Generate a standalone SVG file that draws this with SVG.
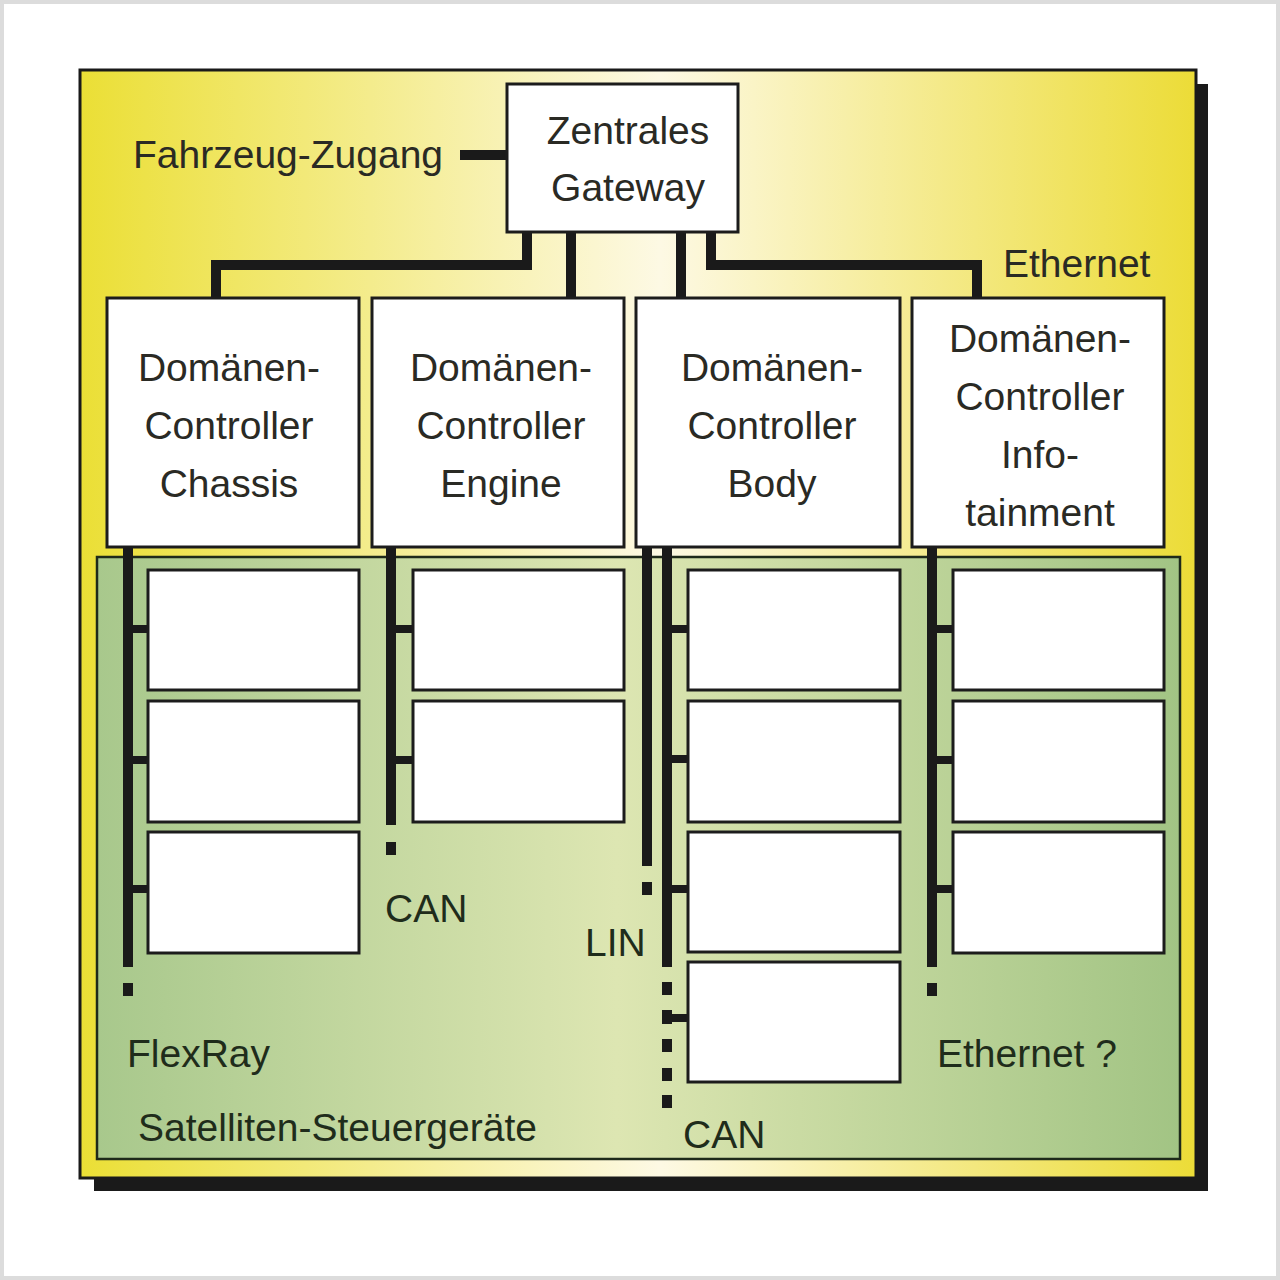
<svg xmlns="http://www.w3.org/2000/svg" width="1280" height="1280" viewBox="0 0 1280 1280">
  <defs>
    <linearGradient id="gYellow" x1="80" y1="0" x2="1196" y2="0" gradientUnits="userSpaceOnUse">
      <stop offset="0" stop-color="#ebdf35"/>
      <stop offset="0.52" stop-color="#fdf9e4"/>
      <stop offset="1" stop-color="#ecdc37"/>
    </linearGradient>
    <linearGradient id="gGreen" x1="97" y1="0" x2="1180" y2="0" gradientUnits="userSpaceOnUse">
      <stop offset="0" stop-color="#a8c88c"/>
      <stop offset="0.48" stop-color="#dde6b2"/>
      <stop offset="1" stop-color="#a2c484"/>
    </linearGradient>
    <style>
      .box { fill: #ffffff; stroke: #1c1c1c; stroke-width: 3; }
      .txt { font-family: "Liberation Sans", Arial, sans-serif; font-size: 39px; fill: #2a2a24; }
      .mid { text-anchor: middle; }
      .lbl { font-family: "Liberation Sans", Arial, sans-serif; font-size: 39px; fill: #1f2c1b; }
      .wire { fill: none; stroke: #1a1a1a; stroke-width: 10; }
      .stub { fill: none; stroke: #1a1a1a; stroke-width: 8; }
      .dot { fill: #1a1a1a; }
    </style>
  </defs>

  <!-- page frame -->
  <rect x="0" y="0" width="1280" height="1280" fill="#ffffff"/>
  <rect x="2" y="2" width="1276" height="1276" fill="none" stroke="#dcdcdc" stroke-width="4"/>

  <!-- outer vehicle frame with shadow -->
  <g id="vehicle-frame">
    <rect x="94" y="84" width="1114" height="1107" fill="#1a1a1a"/>
    <rect x="80" y="70" width="1116" height="1108" fill="url(#gYellow)" stroke="#1a1a1a" stroke-width="3"/>
  </g>

  <!-- satellite area -->
  <g id="satellite-area">
    <rect x="97" y="557" width="1083" height="602" fill="url(#gGreen)" stroke="#1e2a1a" stroke-width="2.5"/>
  </g>

  <!-- connectors -->
  <g id="connectors">
    <line class="wire" x1="460" y1="155" x2="508" y2="155"/>
    <polyline class="wire" points="527,232 527,265 216,265 216,298"/>
    <line class="wire" x1="571" y1="232" x2="571" y2="298"/>
    <line class="wire" x1="681" y1="232" x2="681" y2="298"/>
    <polyline class="wire" points="711,232 711,265 977,265 977,298"/>

    <!-- FlexRay (Chassis) -->
    <line class="wire" x1="128" y1="548" x2="128" y2="967"/>
    <rect class="dot" x="123" y="983" width="10" height="13"/>
    <line class="stub" x1="128" y1="629" x2="149" y2="629"/>
    <line class="stub" x1="128" y1="760" x2="149" y2="760"/>
    <line class="stub" x1="128" y1="889" x2="149" y2="889"/>

    <!-- CAN (Engine) -->
    <line class="wire" x1="391" y1="548" x2="391" y2="825"/>
    <rect class="dot" x="386" y="842" width="10" height="13"/>
    <line class="stub" x1="391" y1="629" x2="414" y2="629"/>
    <line class="stub" x1="391" y1="760" x2="414" y2="760"/>

    <!-- LIN (Body) -->
    <line class="wire" x1="647" y1="548" x2="647" y2="866"/>
    <rect class="dot" x="642" y="882" width="10" height="13"/>

    <!-- CAN (Body) -->
    <line class="wire" x1="667" y1="548" x2="667" y2="967"/>
    <rect class="dot" x="662" y="982" width="10" height="13"/>
    <rect class="dot" x="662" y="1010" width="10" height="14"/>
    <rect class="dot" x="662" y="1039" width="10" height="13"/>
    <rect class="dot" x="662" y="1068" width="10" height="13"/>
    <rect class="dot" x="662" y="1095" width="10" height="13"/>
    <line class="stub" x1="667" y1="629" x2="689" y2="629"/>
    <line class="stub" x1="667" y1="759" x2="689" y2="759"/>
    <line class="stub" x1="667" y1="889" x2="689" y2="889"/>
    <line class="stub" x1="667" y1="1018" x2="689" y2="1018"/>

    <!-- Ethernet ? (Infotainment) -->
    <line class="wire" x1="932" y1="548" x2="932" y2="967"/>
    <rect class="dot" x="927" y="983" width="10" height="13"/>
    <line class="stub" x1="932" y1="629" x2="954" y2="629"/>
    <line class="stub" x1="932" y1="760" x2="954" y2="760"/>
    <line class="stub" x1="932" y1="889" x2="954" y2="889"/>
  </g>

  <!-- gateway -->
  <g id="gateway">
    <rect class="box" x="507" y="84" width="231" height="148"/>
    <text class="txt mid" x="628" y="144">Zentrales</text>
    <text class="txt mid" x="628" y="201">Gateway</text>
  </g>

  <!-- domain controllers -->
  <g id="dc-chassis">
    <rect class="box" x="107" y="298" width="252" height="249"/>
    <text class="txt mid" x="229" y="381">Domänen-</text>
    <text class="txt mid" x="229" y="439">Controller</text>
    <text class="txt mid" x="229" y="497">Chassis</text>
  </g>
  <g id="dc-engine">
    <rect class="box" x="372" y="298" width="252" height="249"/>
    <text class="txt mid" x="501" y="381">Domänen-</text>
    <text class="txt mid" x="501" y="439">Controller</text>
    <text class="txt mid" x="501" y="497">Engine</text>
  </g>
  <g id="dc-body">
    <rect class="box" x="636" y="298" width="264" height="249"/>
    <text class="txt mid" x="772" y="381">Domänen-</text>
    <text class="txt mid" x="772" y="439">Controller</text>
    <text class="txt mid" x="772" y="497">Body</text>
  </g>
  <g id="dc-infotainment">
    <rect class="box" x="912" y="298" width="252" height="249"/>
    <text class="txt mid" x="1040" y="352">Domänen-</text>
    <text class="txt mid" x="1040" y="410">Controller</text>
    <text class="txt mid" x="1040" y="468">Info-</text>
    <text class="txt mid" x="1040" y="526">tainment</text>
  </g>

  <!-- satellite ECUs -->
  <g id="sat-chassis-1"><rect class="box" x="148" y="570" width="211" height="120"/></g>
  <g id="sat-chassis-2"><rect class="box" x="148" y="701" width="211" height="121"/></g>
  <g id="sat-chassis-3"><rect class="box" x="148" y="832" width="211" height="121"/></g>
  <g id="sat-engine-1"><rect class="box" x="413" y="570" width="211" height="120"/></g>
  <g id="sat-engine-2"><rect class="box" x="413" y="701" width="211" height="121"/></g>
  <g id="sat-body-1"><rect class="box" x="688" y="570" width="212" height="120"/></g>
  <g id="sat-body-2"><rect class="box" x="688" y="701" width="212" height="121"/></g>
  <g id="sat-body-3"><rect class="box" x="688" y="832" width="212" height="120"/></g>
  <g id="sat-body-4"><rect class="box" x="688" y="962" width="212" height="120"/></g>
  <g id="sat-info-1"><rect class="box" x="953" y="570" width="211" height="120"/></g>
  <g id="sat-info-2"><rect class="box" x="953" y="701" width="211" height="121"/></g>
  <g id="sat-info-3"><rect class="box" x="953" y="832" width="211" height="121"/></g>

  <!-- labels -->
  <g id="labels">
    <text class="txt" x="133" y="168">Fahrzeug-Zugang</text>
    <text class="txt" x="1003" y="277">Ethernet</text>
    <text class="lbl" x="385" y="922">CAN</text>
    <text class="lbl" x="585" y="956">LIN</text>
    <text class="lbl" x="127" y="1067">FlexRay</text>
    <text class="lbl" x="937" y="1067">Ethernet ?</text>
    <text class="lbl" x="138" y="1141">Satelliten-Steuergeräte</text>
    <text class="lbl" x="683" y="1148">CAN</text>
  </g>
</svg>
